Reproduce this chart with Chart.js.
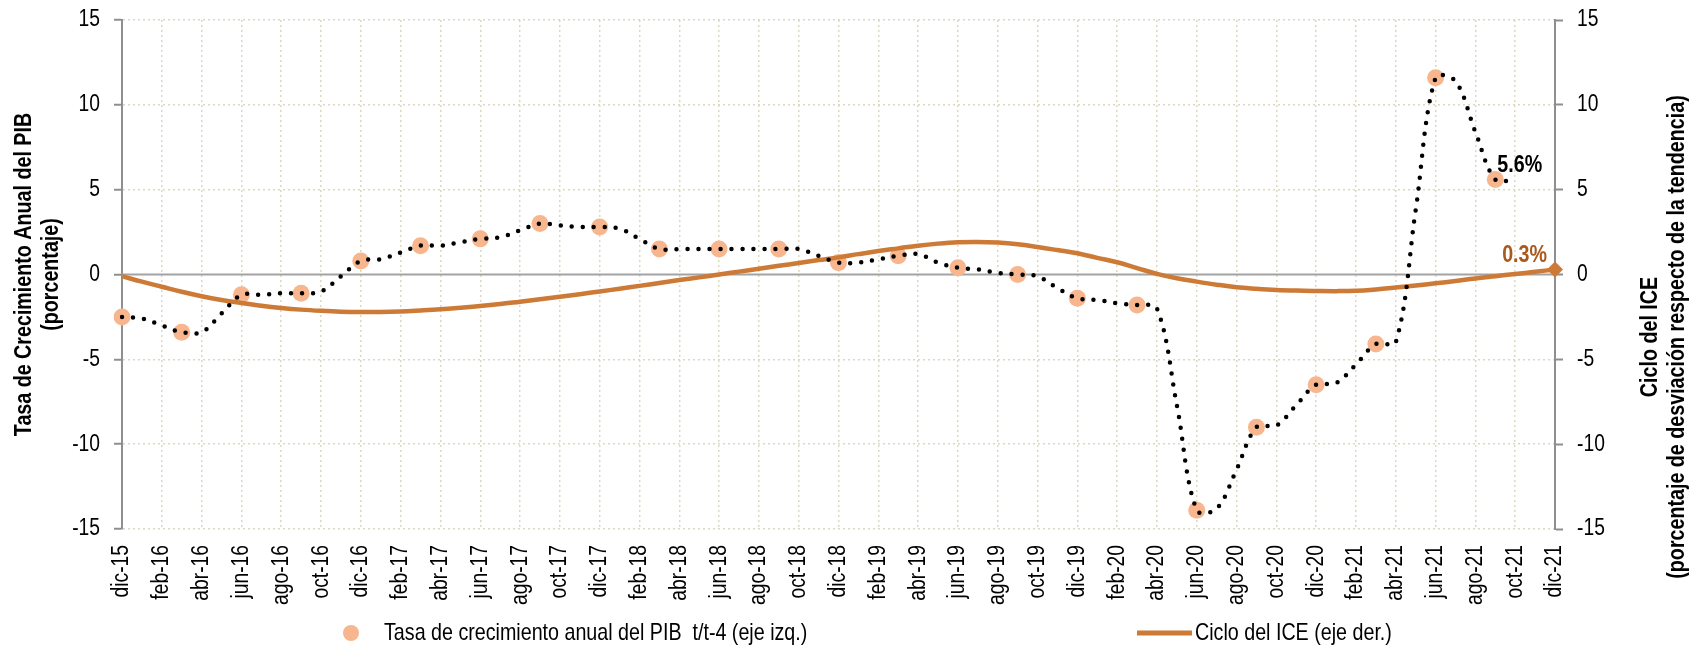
<!DOCTYPE html>
<html lang="es">
<head>
<meta charset="utf-8">
<title>PIB y Ciclo del ICE</title>
<script src="https://cdn.jsdelivr.net/npm/chart.js@4.4.1/dist/chart.umd.min.js"></script>
<style>
    html, body { margin: 0; padding: 0; background: #fff; }
    #wrap { width: 1692px; height: 649px; position: relative; }
</style>
</head>
<body>
<div id="wrap"><canvas id="grafico"></canvas></div>
<script>
// Meses del eje X (dic-15 a dic-21)
const meses = [
    'dic-15',
    'ene-16','feb-16','mar-16','abr-16','may-16','jun-16','jul-16','ago-16','sep-16','oct-16','nov-16','dic-16',
    'ene-17','feb-17','mar-17','abr-17','may-17','jun-17','jul-17','ago-17','sep-17','oct-17','nov-17','dic-17',
    'ene-18','feb-18','mar-18','abr-18','may-18','jun-18','jul-18','ago-18','sep-18','oct-18','nov-18','dic-18',
    'ene-19','feb-19','mar-19','abr-19','may-19','jun-19','jul-19','ago-19','sep-19','oct-19','nov-19','dic-19',
    'ene-20','feb-20','mar-20','abr-20','may-20','jun-20','jul-20','ago-20','sep-20','oct-20','nov-20','dic-20',
    'ene-21','feb-21','mar-21','abr-21','may-21','jun-21','jul-21','ago-21','sep-21','oct-21','nov-21','dic-21'
];

// Tasa de crecimiento anual del PIB t/t-4 (trimestral, eje izq.)
const trimestres = ['dic-15','mar-16','jun-16','sep-16','dic-16','mar-17','jun-17','sep-17',
    'dic-17','mar-18','jun-18','sep-18','dic-18','mar-19','jun-19','sep-19',
    'dic-19','mar-20','jun-20','sep-20','dic-20','mar-21','jun-21','sep-21'];
const pibTrimestral = [-2.5, -3.4, -1.2, -1.1, 0.8, 1.7, 2.1, 3.0,
    2.8, 1.5, 1.5, 1.5, 0.7, 1.1, 0.4, 0.0,
    -1.4, -1.8, -13.9, -9.0, -6.5, -4.1, 11.6, 5.6];

// Linea punteada mensual (dic-15 a oct-21)
const pibMensual = [
    -2.5,
    -2.6, -3.0, -3.4, -3.4, -2.3, -1.2, -1.2, -1.1, -1.1, -1.0, -0.1, 0.8,
    0.9, 1.3, 1.7, 1.7, 1.9, 2.1, 2.2, 2.6, 3.0, 2.9, 2.8, 2.8,
    2.7, 2.1, 1.5, 1.5, 1.5, 1.5, 1.5, 1.5, 1.5, 1.5, 1.1, 0.7,
    0.7, 0.9, 1.1, 1.2, 0.7, 0.4, 0.3, 0.1, 0.0, -0.1, -0.8, -1.4,
    -1.5, -1.7, -1.8, -2.0, -7.7, -13.9, -13.8, -11.5, -9.0, -8.9, -7.7, -6.5,
    -6.4, -5.3, -4.1, -4.0, 3.8, 11.6, 11.4, 8.4, 5.6, 5.6
];

// Ciclo del ICE (eje der.), dic-15 a dic-21
const cicloICE = [
    -0.10,
    -0.42, -0.72, -1.02, -1.28, -1.50, -1.68, -1.84, -1.97, -2.07, -2.14, -2.19, -2.21,
    -2.21, -2.18, -2.12, -2.05, -1.96, -1.86, -1.74, -1.60, -1.46, -1.31, -1.16, -1.00,
    -0.84, -0.67, -0.50, -0.33, -0.17, 0.00, 0.17, 0.34, 0.51, 0.68, 0.85, 1.01,
    1.20, 1.38, 1.54, 1.70, 1.82, 1.90, 1.92, 1.88, 1.78, 1.62, 1.44, 1.25,
    0.98, 0.72, 0.38, 0.04, -0.22, -0.42, -0.60, -0.75, -0.84, -0.91, -0.95, -0.97,
    -0.98, -0.96, -0.88, -0.77, -0.65, -0.52, -0.38, -0.23, -0.10, 0.03, 0.16, 0.30
];

const ticksY = [-15, -10, -5, 0, 5, 10, 15];

const colorPIB = '#F7B68D';
const colorICE = '#CC7A36';
const colorEje = '#8f8f8f';
const colorGrid = '#ddd8c2';
const fuente = "'Liberation Sans', Arial, sans-serif";
const angosto = 0.82; // imitar Arial Narrow

// puntos trimestrales sobre el eje mensual
const datosPIB = meses.map(m => {
    let i = trimestres.indexOf(m);
    return i >= 0 ? pibTrimestral[i] : null;
});

function texto(ctx, str, x, y, opt) {
    ctx.save();
    ctx.translate(x, y);
    if (opt.rot) ctx.rotate(opt.rot);
    ctx.scale(angosto, 1);
    ctx.font = opt.font;
    ctx.fillStyle = opt.color || '#000';
    ctx.textAlign = opt.align || 'left';
    ctx.textBaseline = opt.base || 'middle';
    ctx.fillText(str, 0, 0);
    ctx.restore();
}

const extras = {
    id: 'extras',
    beforeDatasetsDraw(chart) {
        // linea del cero
        const {ctx, chartArea: a, scales: {y}} = chart;
        let y0 = y.getPixelForValue(0);
        ctx.save();
        ctx.strokeStyle = '#a3a3a3';
        ctx.lineWidth = 2;
        ctx.beginPath();
        ctx.moveTo(a.left, y0);
        ctx.lineTo(a.right, y0);
        ctx.stroke();
        ctx.restore();
    },
    afterDraw(chart) {
        const {ctx, chartArea: a, scales: {x, y, y2}} = chart;
        const fTick = '23.5px ' + fuente;
        const fBold = 'bold 24px ' + fuente;

        // etiquetas de los ejes
        y.ticks.forEach(t => {
            texto(ctx, String(t.value), a.left - 22, y.getPixelForValue(t.value), { font: fTick, align: 'right' });
        });
        y2.ticks.forEach(t => {
            texto(ctx, String(t.value), a.right + 22, y2.getPixelForValue(t.value), { font: fTick, align: 'left' });
        });
        meses.forEach((m, i) => {
            if (i % 2 !== 0) return;
            texto(ctx, m, x.getPixelForValue(i), a.bottom + 16, { font: fTick, align: 'right', rot: -Math.PI / 2 });
        });

        // titulos de ejes
        let medio = (a.top + a.bottom) / 2;
        texto(ctx, 'Tasa de Crecimiento Anual del PIB', 24, medio, { font: fBold, align: 'center', rot: -Math.PI / 2 });
        texto(ctx, '(porcentaje)', 51, medio, { font: fBold, align: 'center', rot: -Math.PI / 2 });
        texto(ctx, 'Ciclo del ICE', 1650, 337, { font: fBold, align: 'center', rot: -Math.PI / 2 });
        texto(ctx, '(porcentaje de desviación respecto de la tendencia)', 1677, 337, { font: fBold, align: 'center', rot: -Math.PI / 2 });

        // etiquetas del ultimo dato
        let nPib = pibTrimestral.length - 1;
        let iPib = meses.indexOf(trimestres[nPib]);
        texto(ctx, pibTrimestral[nPib].toFixed(1) + '%', x.getPixelForValue(iPib) + 2,
            y.getPixelForValue(pibTrimestral[nPib]) - 7, { font: fBold, base: 'alphabetic' });

        let iIce = cicloICE.length - 1;
        texto(ctx, cicloICE[iIce].toFixed(1) + '%', x.getPixelForValue(iIce) - 8,
            y2.getPixelForValue(cicloICE[iIce]) - 7, { font: fBold, base: 'alphabetic', align: 'right', color: '#A9591C' });

        // leyenda
        let ly = 633;
        ctx.save();
        ctx.fillStyle = colorPIB;
        ctx.beginPath();
        ctx.arc(351, ly, 8, 0, Math.PI * 2);
        ctx.fill();
        ctx.strokeStyle = colorICE;
        ctx.lineWidth = 5;
        ctx.beginPath();
        ctx.moveTo(1137, ly);
        ctx.lineTo(1192, ly);
        ctx.stroke();
        ctx.restore();
        texto(ctx, 'Tasa de crecimiento anual del PIB  t/t-4 (eje izq.)', 384, ly, { font: '24px ' + fuente });
        texto(ctx, 'Ciclo del ICE (eje der.)', 1195, ly, { font: '24px ' + fuente });
    }
};

new Chart(document.getElementById('grafico'), {
    type: 'line',
    data: {
        labels: meses,
        datasets: [
            {
                label: 'Tasa de crecimiento anual del PIB t/t-4 (eje izq.)',
                data: datosPIB,
                yAxisID: 'y',
                showLine: false,
                pointRadius: 8.5,
                pointBackgroundColor: colorPIB,
                pointBorderWidth: 0,
                order: 3
            },
            {
                label: 'Ciclo del ICE (eje der.)',
                data: cicloICE,
                yAxisID: 'y2',
                borderColor: colorICE,
                borderWidth: 4.5,
                tension: 0.4,
                pointStyle: 'rectRot',
                pointRadius: c => c.dataIndex === cicloICE.length - 1 ? 8 : 0,
                pointBackgroundColor: colorICE,
                pointBorderWidth: 0,
                order: 2
            },
            {
                label: 'PIB mensual',
                data: pibMensual,
                yAxisID: 'y',
                borderColor: '#000',
                borderWidth: 4.5,
                borderDash: [0, 11],
                borderCapStyle: 'round',
                tension: 0.35,
                pointRadius: 0,
                order: 1
            }
        ]
    },
    options: {
        responsive: true,
        maintainAspectRatio: false,
        animation: false,
        events: [],
        layout: { padding: { top: 20, left: 0, right: 0, bottom: 0 } },
        plugins: {
            legend: { display: false },
            tooltip: { enabled: false }
        },
        scales: {
            x: {
                type: 'category',
                offset: false,
                grid: {
                    color: c => c.index % 2 === 0 ? colorGrid : 'rgba(0,0,0,0)',
                    lineWidth: 1.5,
                    drawTicks: false
                },
                border: { display: false, dash: [2, 3] },
                ticks: { display: false, autoSkip: false },
                afterFit: s => { s.height = 120; }
            },
            y: {
                position: 'left',
                min: -15,
                max: 15,
                afterBuildTicks: s => { s.ticks = ticksY.map(v => ({ value: v })); },
                grid: {
                    color: c => c.tick && c.tick.value === 0 ? 'rgba(0,0,0,0)' : colorGrid,
                    lineWidth: 1.5,
                    tickColor: colorEje,
                    tickLength: 8,
                    tickWidth: 2,
                    tickBorderDash: []
                },
                border: { color: colorEje, width: 2, dash: [2, 3] },
                ticks: { display: false },
                afterFit: s => { s.width = 122; }
            },
            y2: {
                position: 'right',
                min: -15,
                max: 15,
                afterBuildTicks: s => { s.ticks = ticksY.map(v => ({ value: v })); },
                grid: {
                    drawOnChartArea: false,
                    tickColor: colorEje,
                    tickLength: 8,
                    tickWidth: 2,
                    tickBorderDash: []
                },
                border: { color: colorEje, width: 2 },
                ticks: { display: false },
                afterFit: s => { s.width = 137; }
            }
        }
    },
    plugins: [extras]
});
</script>
</body>
</html>
